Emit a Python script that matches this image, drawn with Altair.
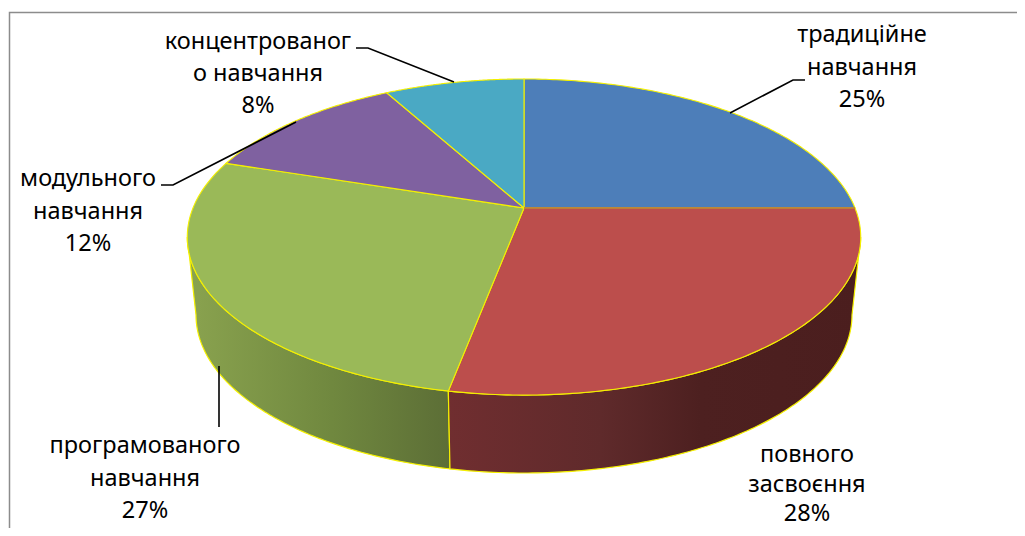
import math
import altair as alt
import pandas as pd

CATEGORIES = ["традиційне навчання", "повного засвоєння", "програмованого навчання",
              "модульного навчання", "концентрованого навчання"]
SHARES = [25, 28, 27, 12, 8]
COLORS = ["#4d7eb9", "#bc4e4c", "#9ab958", "#7f61a0", "#4aa9c4"]
LABEL_LINES = [
    ["традиційне", "навчання", "25%"],
    ["повного", "засвоєння", "28%"],
    ["програмованого", "навчання", "27%"],
    ["модульного", "навчання", "12%"],
    ["концентрованог", "о навчання", "8%"],
]

# layout (page pixels)
LABEL_X = [862, 807, 145, 88, 258]
LABEL_Y = [[42, 75, 107], [462, 492, 521], [453, 486, 518], [186, 219, 251], [49, 81, 113]]
LEADERS = [
    [(730, 113), (793, 80), (805, 80)],
    [],
    [(219, 366), (219, 427)],
    [(161, 185), (173, 185), (296, 122)],
    [(356, 48), (368, 48), (454, 82)],
]
FONT = "Noto Sans"
FONT_SIZE = 23.5
W, H = 1009, 520
CX, CY, RX, RY, K = 524, 208, 331, 152.7, 0.1836
BX, BY, BRX, BRY = 524, 315, 328, 158


def top(theta):
    d = 1 + K * math.cos(theta)
    return CX + RX * math.sin(theta) / d, CY - RY * math.cos(theta) / d


def arc(a0, a1, n=120):
    return [top(a0 + (a1 - a0) * i / n) for i in range(n + 1)]


def bottom(t):
    return BX + BRX * math.sin(t), BY - BRY * math.cos(t)


X = alt.X("x:Q", scale=alt.Scale(domain=[0, W]), axis=None)
Y = alt.Y("y:Q", scale=alt.Scale(domain=[H, 0]), axis=None)


def frame(points):
    return pd.DataFrame(
        [{"x": x - 8, "y": y - 8, "i": i} for i, (x, y) in enumerate(points)]
    )


def poly(points, **mark):
    return alt.Chart(frame(points)).mark_line(**mark).encode(
        x=X, y=Y, order=alt.Order("i:Q", sort="ascending")
    )


YELLOW = "#f4f000"
layers = []

# cumulative angles from the shares
angles = [0]
for s in SHARES:
    angles.append(angles[-1] + s / sum(SHARES) * 2 * math.pi)

# extremes of the top ellipse silhouette
right_t = math.pi - math.acos(K)
left_t = math.pi + math.acos(K)


def wall(a0, a1, t0, t1, stops):
    upper = arc(a0, a1)
    lower = [bottom(t0 + (t1 - t0) * i / 120) for i in range(121)]
    pts = upper + lower[::-1] + [upper[0]]
    grad = alt.Gradient(
        gradient="linear", x1=0, y1=0, x2=1, y2=0,
        stops=[alt.GradientStop(offset=o, color=c) for o, c in stops],
    )
    return poly(pts, fill=grad, stroke=YELLOW, strokeWidth=1.2)


# bottom ellipse angle matching the seam between the red and green walls
seam_t = math.pi + math.asin((524 - 450) / BRX)

layers.append(wall(angles[2], left_t, seam_t, 1.5 * math.pi,
                   [(0, "#8aa34f"), (0.55, "#70883f"), (1, "#5c6e36")]))
layers.append(wall(right_t, angles[2], 0.5 * math.pi, seam_t,
                   [(0, "#702e30"), (0.37, "#5f2a2b"), (0.61, "#4d2020"), (1, "#4b1e1e")]))

for i, color in enumerate(COLORS):
    pts = [(CX, CY)] + arc(angles[i], angles[i + 1]) + [(CX, CY)]
    layers.append(poly(pts, fill=color, stroke=YELLOW, strokeWidth=1.1))

# blue/red seam is drawn darker in the reference
layers.append(poly([(CX, CY), top(angles[1])], stroke="#b5703f", strokeWidth=1.3))

for leader in LEADERS:
    if leader:
        layers.append(poly(leader, stroke="#000000", strokeWidth=1.6))

# chart frame: left and top edges only
layers.append(poly([(9.5, 528), (9.5, 12.5), (1017, 12.5)], stroke="#8c8c8c", strokeWidth=1.5))

rows = []
for lines, lx, ys in zip(LABEL_LINES, LABEL_X, LABEL_Y):
    for text, y in zip(lines, ys):
        rows.append({"x": lx - 8, "y": y - 8, "t": text})
layers.append(
    alt.Chart(pd.DataFrame(rows))
    .mark_text(font=FONT, fontSize=FONT_SIZE, color="#000000", align="center", baseline="alphabetic")
    .encode(x=X, y=Y, text="t:N")
)

chart = (
    alt.layer(*layers)
    .properties(width=W, height=H, padding=0, autosize=alt.AutoSizeParams(type="none"))
    .configure_view(stroke=None)
)
chart.save("out.html", embed_options={"renderer": "svg", "actions": False})
